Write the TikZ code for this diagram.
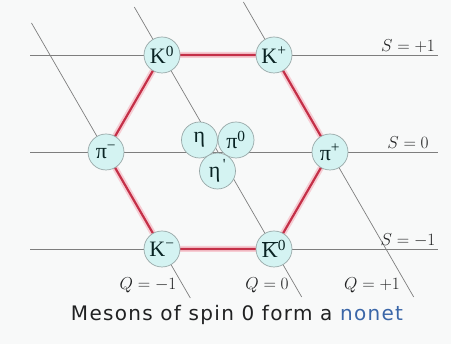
\documentclass[tikz,border=0pt]{standalone}
\usepackage{fontspec}
\setmainfont{Liberation Serif}
\newfontfamily\capfont[LetterSpace=6.5]{DejaVu Sans}
\definecolor{bgcol}{HTML}{F8F9F9}
\definecolor{gridcol}{HTML}{7E7E7E}
\definecolor{edgecol}{HTML}{C43048}
\definecolor{glowcol}{HTML}{F6CCD3}
\definecolor{fillcol}{HTML}{D4F3F2}
\definecolor{rimcol}{HTML}{98A8A8}
\definecolor{inkcol}{HTML}{0A2424}
\definecolor{linkcol}{HTML}{3A66A8}
\definecolor{capcol}{HTML}{202122}
\begin{document}
\begin{tikzpicture}[x=1pt,y=-1pt,
  gridline/.style={draw=gridcol,line width=0.7pt},
  hexedge/.style={draw=edgecol,line width=2.2pt},
  hexglow/.style={draw=glowcol,line width=6pt},
  meson/.style={circle,draw=rimcol,line width=0.7pt,fill=fillcol,minimum size=36pt,inner sep=0pt,
    font=\fontsize{22}{22}\selectfont,text=inkcol},
  axlabel/.style={inner sep=0pt,font=\fontsize{16}{16}\selectfont,text=capcol},
]
\fill[bgcol] (0,0) rectangle (451,344);
\useasboundingbox (0,0) rectangle (451,344);

% end points of the grid lines
\coordinate (s1l) at (30,55);  \coordinate (s1r) at (438,55);
\coordinate (s0l) at (30,152); \coordinate (s0r) at (438,152);
\coordinate (sml) at (30,249); \coordinate (smr) at (438,249);
\coordinate (qmt) at (31.5,23); \coordinate (qmb) at (190.3,298);
\coordinate (q0t) at (134.3,7); \coordinate (q0b) at (301.7,297);
\coordinate (qpt) at (243.4,2); \coordinate (qpb) at (413.7,297);

\draw[gridline] (s1l) -- (s1r);
\draw[gridline] (s0l) -- (s0r);
\draw[gridline] (sml) -- (smr);
\draw[gridline] (qmt) -- (qmb);
\draw[gridline] (q0t) -- (q0b);
\draw[gridline] (qpt) -- (qpb);

% node centres
\coordinate (cK0) at (162,55);
\coordinate (cKp) at (274,55);
\coordinate (cpim) at (106,152);
\coordinate (cpip) at (330,152);
\coordinate (cKm) at (162,249);
\coordinate (cK0b) at (274,249);

\draw[hexglow,line join=round] (cK0) -- (cKp) -- (cpip) -- (cK0b) -- (cKm) -- (cpim) -- cycle;
\draw[hexedge,line join=round] (cK0) -- (cKp) -- (cpip) -- (cK0b) -- (cKm) -- (cpim) -- cycle;

\node[meson] (K0) at (cK0) {K\textsuperscript{0}};
\node[meson] (Kp) at (cKp) {K\textsuperscript{+}};
\node[meson] (pim) at (cpim) {π\textsuperscript{−}};
\node[meson] (pip) at (cpip) {π\textsuperscript{+}};
\node[meson] (Km) at (cKm) {K\textsuperscript{−}};
\node[meson] (K0b) at (cK0b) {$\overline{\mbox{K}}$\textsuperscript{0}};
\node[meson] (eta) at (199.5,140) {η};
\node[meson] (pi0) at (236,140) {π\textsuperscript{0}};
\node[meson] (etap) at (217.5,171) {η\textsuperscript{\,\textquotesingle}};

\node[axlabel] (Sp) at (408,46) {$S = +1$};
\node[axlabel] (S0) at (408,143) {$S = 0$};
\node[axlabel] (Sm) at (408,240) {$S = -1$};
\node[axlabel] (Qm) at (148,285) {$Q = -1$};
\node[axlabel] (Q0) at (267,285) {$Q = 0$};
\node[axlabel] (Qp) at (372,285) {$Q = +1$};

\node[inner sep=0pt,font=\capfont\fontsize{20}{20}\selectfont,text=capcol] (cap) at (237,315)
  {Mesons of spin 0 form a \textcolor{linkcol}{nonet}};
\end{tikzpicture}
\end{document}
